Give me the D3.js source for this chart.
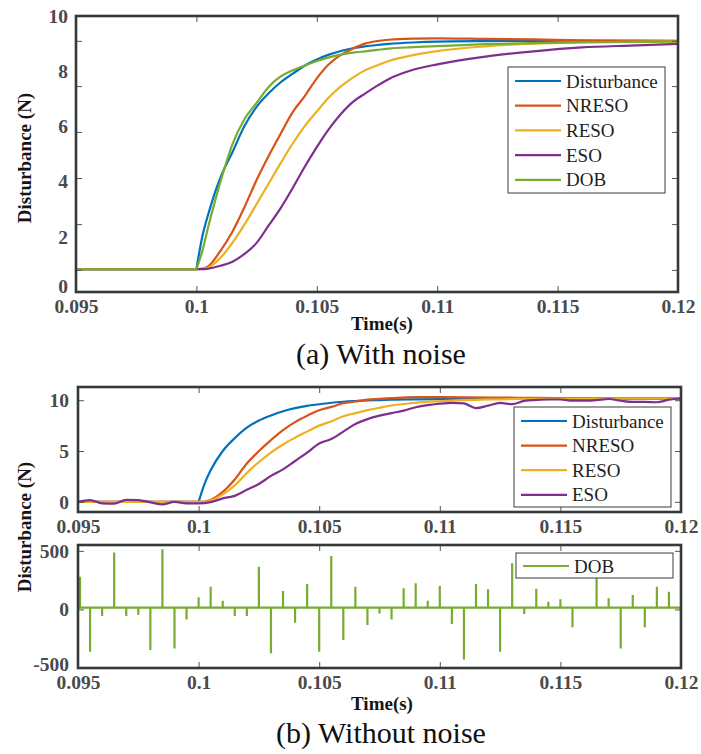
<!DOCTYPE html>
<html>
<head>
<meta charset="utf-8">
<script src="https://cdn.jsdelivr.net/npm/d3@7"></script>
<style>
  body { margin: 0; background: #fff; }
  svg { display: block; }
</style>
</head>
<body>
<div id="chart"></div>
<script>
// sample times for the smooth curves
var tA = [0.095, 0.1, 0.10025, 0.1005, 0.101, 0.1015, 0.102, 0.1025, 0.103, 0.1035, 0.104, 0.1045,
          0.105, 0.1055, 0.106, 0.1065, 0.107, 0.1075, 0.108, 0.109, 0.11, 0.112, 0.114, 0.116, 0.118, 0.12];

// (a) with noise
var distA  = [0.83, 0.83, 2.03, 2.84, 4.15, 5.07, 6.02, 6.71, 7.2, 7.6, 7.91, 8.2,
              8.42, 8.6, 8.73, 8.83, 8.9, 8.95, 8.99, 9.04, 9.07, 9.09, 9.1, 9.1, 9.1, 9.1];
var nresoA = [0.83, 0.83, 0.85, 0.94, 1.49, 2.19, 3.08, 4.06, 4.93, 5.74, 6.52, 7.1,
              7.74, 8.25, 8.59, 8.82, 9.0, 9.09, 9.14, 9.18, 9.19, 9.17, 9.15, 9.12, 9.11, 9.09];
var resoA  = [0.83, 0.83, 0.84, 0.89, 1.24, 1.79, 2.45, 3.19, 3.93, 4.67, 5.38, 6.01,
              6.54, 7.05, 7.45, 7.77, 8.03, 8.21, 8.37, 8.58, 8.73, 8.9, 9.0, 9.04, 9.06, 9.08];
var esoA   = [0.83, 0.83, 0.83, 0.85, 0.95, 1.1, 1.38, 1.78, 2.41, 3.04, 3.77, 4.54,
              5.25, 5.9, 6.45, 6.89, 7.19, 7.47, 7.72, 8.05, 8.25, 8.53, 8.72, 8.86, 8.93, 8.99];
var dobA   = [0.83, 0.83, 1.5, 2.39, 4.0, 5.36, 6.27, 6.85, 7.43, 7.81, 8.03, 8.21,
              8.37, 8.5, 8.6, 8.67, 8.72, 8.77, 8.82, 8.87, 8.91, 8.98, 9.02, 9.05, 9.06, 9.08];

// (b) without noise, upper axes
var distB  = [0, 0, 1.8, 3.1, 5.0, 6.27, 7.3, 8.0, 8.5, 8.92, 9.22, 9.45,
              9.6, 9.75, 9.85, 9.92, 9.98, 10.01, 10.05, 10.08, 10.1, 10.12, 10.13, 10.14, 10.15, 10.15];
var nresoB = [0, 0, 0.02, 0.2, 0.98, 2.2, 3.77, 5.0, 6.08, 7.06, 7.84, 8.47,
              9.02, 9.34, 9.7, 9.87, 10.05, 10.13, 10.2, 10.3, 10.3, 10.26, 10.23, 10.2, 10.18, 10.17];
var resoB  = [0, 0, 0.01, 0.15, 0.74, 1.62, 2.84, 3.92, 4.85, 5.64, 6.32, 6.91,
              7.5, 7.91, 8.43, 8.73, 9.02, 9.26, 9.48, 9.75, 9.9, 10.08, 10.14, 10.17, 10.17, 10.17];

// ESO and DOB are sampled every 0.5 ms
var tB = [0.095, 0.0955, 0.096, 0.0965, 0.097, 0.0975, 0.098, 0.0985, 0.099, 0.0995,
          0.1, 0.1005, 0.101, 0.1015, 0.102, 0.1025, 0.103, 0.1035, 0.104, 0.1045,
          0.105, 0.1055, 0.106, 0.1065, 0.107, 0.1075, 0.108, 0.1085, 0.109, 0.1095,
          0.11, 0.1105, 0.111, 0.1115, 0.112, 0.1125, 0.113, 0.1135, 0.114, 0.1145,
          0.115, 0.1155, 0.116, 0.1165, 0.117, 0.1175, 0.118, 0.1185, 0.119, 0.1195, 0.12];
var esoB = [-0.03, 0.17, -0.15, -0.18, 0.2, 0.17, -0.05, -0.25, 0, -0.15,
            -0.15, -0.03, 0.34, 0.59, 1.18, 1.76, 2.55, 3.19, 4.02, 4.85,
            5.74, 6.18, 6.91, 7.65, 8.14, 8.48, 8.73, 8.97, 9.31, 9.51,
            9.66, 9.74, 9.68, 9.22, 9.46, 9.73, 9.61, 9.93, 10.02, 10.07,
            10.07, 9.95, 9.95, 10.0, 10.12, 9.95, 9.83, 9.83, 9.8, 10.05, 10.17];
var dobBase = 15;
var dobB = [279, -361, -56, 485, -56, -48, -347, 514, -333, -85,
            103, 194, 74, -56, -56, 365, -375, 157, -114, 217,
            -361, 456, -262, 194, -133, -35, -85, 180, 223, 74,
            200, -125, -427, 217, 172, -361, 394, -40, 177, 66,
            86, -153, 10, 308, 95, -333, 123, -153, 194, 151, -40];

var xTicks = [0.095, 0.1, 0.105, 0.11, 0.115, 0.12];
var xTickLabels = ["0.095", "0.1", "0.105", "0.11", "0.115", "0.12"];
var yLabelsA = [0, 2, 4, 6, 8, 10];
var yMarksA = [0.8, 2.46, 4.13, 5.8, 7.46, 9.1];
var yTicksB = [0, 5, 10];
var yTicksC = [-500, 0, 500];

var names = ["Disturbance", "NRESO", "RESO", "ESO", "DOB"];
var colors = ["#0072BD", "#D95319", "#EDB120", "#7E2F8E", "#77AC30"];

var W = 701, H = 754;
var serif = "Liberation Serif";

var svg = d3.select("#chart").append("svg")
  .attr("width", W).attr("height", H)
  .attr("font-family", serif)
  .attr("xmlns", "http://www.w3.org/2000/svg");

var clipId = 0;

function makePanel(box, yDomain) {
  var x = d3.scaleLinear().domain([0.095, 0.12]).range([box.left, box.right]);
  var y = d3.scaleLinear().domain(yDomain).range([box.bottom, box.top]);
  var g = svg.append("g");
  clipId++;
  g.append("clipPath").attr("id", "clip" + clipId)
    .append("rect")
    .attr("x", box.left).attr("y", box.top)
    .attr("width", box.right - box.left).attr("height", box.bottom - box.top);
  var plot = g.append("g").attr("clip-path", "url(#clip" + clipId + ")");
  return { x: x, y: y, g: g, plot: plot, box: box };
}

function styleAxis(sel) {
  sel.attr("font-family", serif);
  sel.select(".domain").remove();
  sel.selectAll(".tick line").attr("stroke", "#555").attr("stroke-width", 1);
  sel.selectAll(".tick text")
    .attr("fill", "#4a4a4a")
    .attr("font-family", serif)
    .attr("font-weight", "bold")
    .attr("font-size", 19.5);
}

function drawXAxes(p) {
  var b = p.box;
  var bottom = p.g.append("g").attr("transform", "translate(0," + b.bottom + ")")
    .call(d3.axisBottom(p.x).tickValues(xTicks).tickSizeInner(-6).tickSizeOuter(0).tickPadding(7)
      .tickFormat(function (d, i) { return xTickLabels[i]; }));
  styleAxis(bottom);
  var top = p.g.append("g").attr("transform", "translate(0," + b.top + ")")
    .call(d3.axisTop(p.x).tickValues(xTicks).tickSizeInner(-6).tickSizeOuter(0).tickFormat(""));
  styleAxis(top);
}

function drawYAxes(p, labels, marks, pad) {
  var b = p.box;
  var lab = p.g.append("g").attr("transform", "translate(" + b.left + ",0)")
    .call(d3.axisLeft(p.y).tickValues(labels).tickSize(0).tickPadding(pad)
      .tickFormat(function (d) { return String(d); }));
  styleAxis(lab);
  lab.selectAll(".tick line").remove();
  var left = p.g.append("g").attr("transform", "translate(" + b.left + ",0)")
    .call(d3.axisLeft(p.y).tickValues(marks).tickSizeInner(-6).tickSizeOuter(0).tickFormat(""));
  styleAxis(left);
  var right = p.g.append("g").attr("transform", "translate(" + b.right + ",0)")
    .call(d3.axisRight(p.y).tickValues(marks).tickSizeInner(-6).tickSizeOuter(0).tickFormat(""));
  styleAxis(right);
  return lab;
}

function drawFrame(p) {
  var b = p.box;
  p.g.append("rect")
    .attr("x", b.left).attr("y", b.top)
    .attr("width", b.right - b.left).attr("height", b.bottom - b.top)
    .attr("fill", "none").attr("stroke", "#343a3a").attr("stroke-width", 2.6);
}

// flat part drawn straight, the rise after the step drawn smooth
function drawStep(p, times, values, color) {
  var pts = times.map(function (t, i) { return [t, values[i]]; });
  var flat = pts.filter(function (d) { return d[0] <= 0.1; });
  var rise = pts.filter(function (d) { return d[0] >= 0.1; });
  var lineFlat = d3.line().x(function (d) { return p.x(d[0]); }).y(function (d) { return p.y(d[1]); });
  var lineRise = d3.line().x(function (d) { return p.x(d[0]); }).y(function (d) { return p.y(d[1]); })
    .curve(d3.curveMonotoneX);
  p.plot.append("path").attr("d", lineFlat(flat))
    .attr("fill", "none").attr("stroke", color).attr("stroke-width", 2.2);
  p.plot.append("path").attr("d", lineRise(rise))
    .attr("fill", "none").attr("stroke", color).attr("stroke-width", 2.2).attr("stroke-linecap", "round");
}

function drawLegend(p, box, items, fill) {
  var lg = p.g.append("g");
  lg.append("rect")
    .attr("x", box.x).attr("y", box.y).attr("width", box.w).attr("height", box.h)
    .attr("fill", fill).attr("stroke", "#3a3a3a").attr("stroke-width", 1);
  items.forEach(function (it, i) {
    var cy = box.first + i * box.step;
    lg.append("line")
      .attr("x1", box.x + 7).attr("x2", box.x + 53)
      .attr("y1", cy).attr("y2", cy)
      .attr("stroke", colors[it]).attr("stroke-width", 2.2);
    lg.append("text")
      .attr("x", box.x + 58).attr("y", cy)
      .attr("dy", "0.35em")
      .attr("fill", "#1e1e1e")
      .attr("font-family", serif)
      .attr("font-size", 19)
      .text(names[it]);
  });
}

function yTitle(cx, cy) {
  svg.append("text")
    .attr("transform", "translate(" + cx + "," + cy + ") rotate(-90)")
    .attr("text-anchor", "middle")
    .attr("fill", "#151515")
    .attr("font-family", serif)
    .attr("font-weight", "bold")
    .attr("font-size", 19)
    .text("Disturbance (N)");
}

function xTitle(cx, by) {
  svg.append("text")
    .attr("x", cx).attr("y", by)
    .attr("text-anchor", "middle")
    .attr("fill", "#151515")
    .attr("font-family", serif)
    .attr("font-weight", "bold")
    .attr("font-size", 19)
    .text("Time(s)");
}

function caption(cx, by, txt) {
  svg.append("text")
    .attr("x", cx).attr("y", by)
    .attr("text-anchor", "middle")
    .attr("fill", "#111")
    .attr("font-family", serif)
    .attr("font-size", 30)
    .text(txt);
}

// ---- (a) With noise
var pa = makePanel({ left: 76, right: 678, top: 16, bottom: 292 }, [0, 10]);
drawStep(pa, tA, distA, colors[0]);
drawStep(pa, tA, nresoA, colors[1]);
drawStep(pa, tA, resoA, colors[2]);
drawStep(pa, tA, esoA, colors[3]);
drawStep(pa, tA, dobA, colors[4]);
drawXAxes(pa);
var labA = drawYAxes(pa, yLabelsA, yMarksA, 8);
labA.selectAll(".tick text").attr("dy", function (d) { return d === 0 ? "0.05em" : "0.32em"; });
drawFrame(pa);
drawLegend(pa, { x: 508, y: 67, w: 157, h: 126, first: 81, step: 24.7 }, [0, 1, 2, 3, 4], "#fff");
yTitle(31, 158);
xTitle(382, 330);
caption(381, 364, "(a) With noise");

// ---- (b) Without noise, estimates
var pb = makePanel({ left: 78, right: 681, top: 387, bottom: 512 }, [-1, 11.3]);
drawStep(pb, tA, distB, colors[0]);
drawStep(pb, tA, nresoB, colors[1]);
drawStep(pb, tA, resoB, colors[2]);
pb.plot.append("path")
  .attr("d", d3.line().x(function (d, i) { return pb.x(tB[i]); }).y(function (d) { return pb.y(d); })
    .curve(d3.curveMonotoneX)(esoB))
  .attr("fill", "none").attr("stroke", colors[3]).attr("stroke-width", 2.2);
drawXAxes(pb);
drawYAxes(pb, yTicksB, yTicksB, 9);
drawFrame(pb);
drawLegend(pb, { x: 514, y: 407, w: 157, h: 100, first: 421, step: 24.6 }, [0, 1, 2, 3], "#fff");

// ---- (b) Without noise, DOB
var pc = makePanel({ left: 78, right: 681, top: 545, bottom: 668 }, [-500, 550]);
var dobPts = [];
tB.forEach(function (t, i) {
  dobPts.push([t, dobBase]);
  dobPts.push([t, dobB[i]]);
  dobPts.push([t, dobBase]);
});
drawLegend(pc, { x: 516, y: 553, w: 157, h: 25, first: 566, step: 0 }, [4], "#fff");
pc.plot.append("path")
  .attr("d", d3.line().x(function (d) { return Math.max(pc.x(d[0]), pc.box.left + 2); }).y(function (d) { return pc.y(d[1]); })(dobPts))
  .attr("fill", "none").attr("stroke", colors[4]).attr("stroke-width", 2.2);
drawXAxes(pc);
var labC = drawYAxes(pc, yTicksC, yTicksC, 9);
labC.selectAll(".tick text").attr("dy", function (d) { return d === -500 ? "0.15em" : "0.32em"; });
drawFrame(pc);
yTitle(31, 527);
xTitle(382, 710);
caption(381, 743, "(b) Without noise");
</script>
</body>
</html>
